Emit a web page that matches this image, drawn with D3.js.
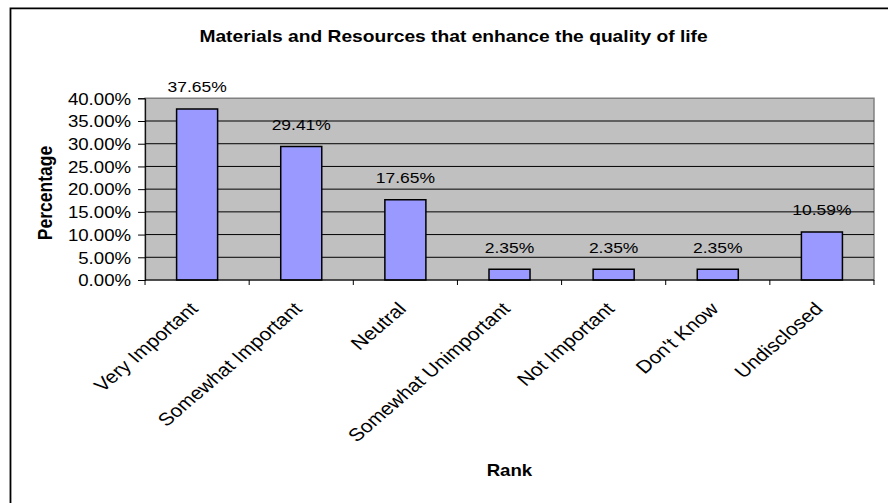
<!DOCTYPE html>
<html>
<head>
<meta charset="utf-8">
<script src="https://cdn.jsdelivr.net/npm/d3@7"></script>
<style>
  html, body { margin: 0; padding: 0; background: #fff; }
  svg { display: block; }
  text { font-family: "Liberation Sans", Arial, sans-serif; fill: #000; }
</style>
</head>
<body>
<svg id="chart" width="888" height="503"></svg>
<script>
// ---- data ----
const categories = ["Very Important", "Somewhat Important", "Neutral", "Somewhat Unimportant", "Not Important", "Don't Know", "Undisclosed"];
const values = [0.3765, 0.2941, 0.1765, 0.0235, 0.0235, 0.0235, 0.1059];
const valueLabels = ["37.65%", "29.41%", "17.65%", "2.35%", "2.35%", "2.35%", "10.59%"];
const yTicks = [0, 0.05, 0.10, 0.15, 0.20, 0.25, 0.30, 0.35, 0.40];
const chartTitle = "Materials and Resources that enhance the quality of life";
const xTitle = "Rank";
const yTitle = "Percentage";

// ---- layout (unstretched units; whole drawing stretched horizontally) ----
const stretch = 1.165;
const plot = { left: 124.5, right: 750.2, top: 98.3, bottom: 280 };

const svg = d3.select("#chart");
const root = svg.append("g").attr("transform", `scale(${stretch},1)`);

// outer chart border
root.append("rect")
  .attr("x", 9).attr("y", 8.3)
  .attr("width", 900).attr("height", 600)
  .attr("fill", "#fff").attr("stroke", "#000").attr("stroke-width", 1.8)
  .attr("vector-effect", "non-scaling-stroke");

const x = d3.scaleBand().domain(categories).range([plot.left, plot.right]).padding(0);
const y = d3.scaleLinear().domain([0, 0.4]).range([plot.bottom, plot.top]);

// plot background
root.append("rect")
  .attr("x", plot.left).attr("y", plot.top)
  .attr("width", plot.right - plot.left).attr("height", plot.bottom - plot.top)
  .attr("fill", "#C0C0C0").attr("stroke", "#808080").attr("stroke-width", 1.5)
  .attr("vector-effect", "non-scaling-stroke");

// gridlines
root.append("g").selectAll("line")
  .data(yTicks.filter(d => d > 0 && d < 0.4))
  .join("line")
  .attr("x1", plot.left).attr("x2", plot.right)
  .attr("y1", d => y(d)).attr("y2", d => y(d))
  .attr("stroke", "#000").attr("stroke-width", 1)
  .attr("vector-effect", "non-scaling-stroke");

// bars
const barW = x.step() * 0.394;
root.append("g").selectAll("rect")
  .data(values)
  .join("rect")
  .attr("x", (d, i) => x(categories[i]) + x.bandwidth() / 2 - barW / 2)
  .attr("y", d => y(d))
  .attr("width", barW)
  .attr("height", d => plot.bottom - y(d))
  .attr("fill", "#9999FF")
  .attr("stroke", "#000").attr("stroke-width", 1.5)
  .attr("vector-effect", "non-scaling-stroke");

// bar value labels
root.append("g").selectAll("text")
  .data(values)
  .join("text")
  .attr("x", (d, i) => x(categories[i]) + x.bandwidth() / 2)
  .attr("y", d => y(d) - 16.5)
  .attr("text-anchor", "middle")
  .style("font-size", "15px")
  .text((d, i) => valueLabels[i]);

// y axis
const yAxis = d3.axisLeft(y).tickValues(yTicks).tickFormat(d3.format(".2%")).tickSize(6).tickPadding(6);
const gy = root.append("g").attr("transform", `translate(${plot.left},0)`).call(yAxis);
gy.select(".domain").attr("stroke", "#000").attr("stroke-width", 1).attr("vector-effect", "non-scaling-stroke");
gy.selectAll(".tick line").attr("stroke", "#000").attr("vector-effect", "non-scaling-stroke");
gy.selectAll(".tick text")
  .style("font-size", "16px")
  .style("font-family", "'Liberation Sans', Arial, sans-serif")
  .attr("dy", "0.36em").attr("fill", "#000");

// x axis (ticks at category boundaries)
const gx = root.append("g").attr("transform", `translate(0,${plot.bottom})`);
gx.append("line").attr("x1", plot.left).attr("x2", plot.right).attr("y1", 0).attr("y2", 0)
  .attr("stroke", "#000").attr("stroke-width", 1.2);
const boundaries = categories.map(c => x(c)).concat([plot.right]);
gx.selectAll("line.tk").data(boundaries).join("line").attr("class", "tk")
  .attr("x1", d => d).attr("x2", d => d).attr("y1", 0).attr("y2", 5)
  .attr("stroke", "#000").attr("stroke-width", 1).attr("vector-effect", "non-scaling-stroke");

// x category labels rotated
root.append("g").selectAll("text")
  .data(categories)
  .join("text")
  .attr("text-anchor", "end")
  .attr("transform", d => `translate(${x(d) + x.bandwidth() / 2 + 1.7},${plot.bottom + 30}) rotate(-45)`)
  .style("font-size", "18px")
  .text(d => d);

// titles
root.append("text")
  .attr("x", 389.3).attr("y", 42.5)
  .attr("text-anchor", "middle")
  .style("font-size", "16.5px").style("font-weight", "bold")
  .text(chartTitle);

root.append("text")
  .attr("x", 437.3).attr("y", 475.7)
  .attr("text-anchor", "middle")
  .style("font-size", "16px").style("font-weight", "bold")
  .text(xTitle);

root.append("text")
  .attr("transform", `translate(44.6,193) rotate(-90)`)
  .attr("text-anchor", "middle")
  .style("font-size", "17.5px").style("font-weight", "bold")
  .text(yTitle);
</script>
</body>
</html>
